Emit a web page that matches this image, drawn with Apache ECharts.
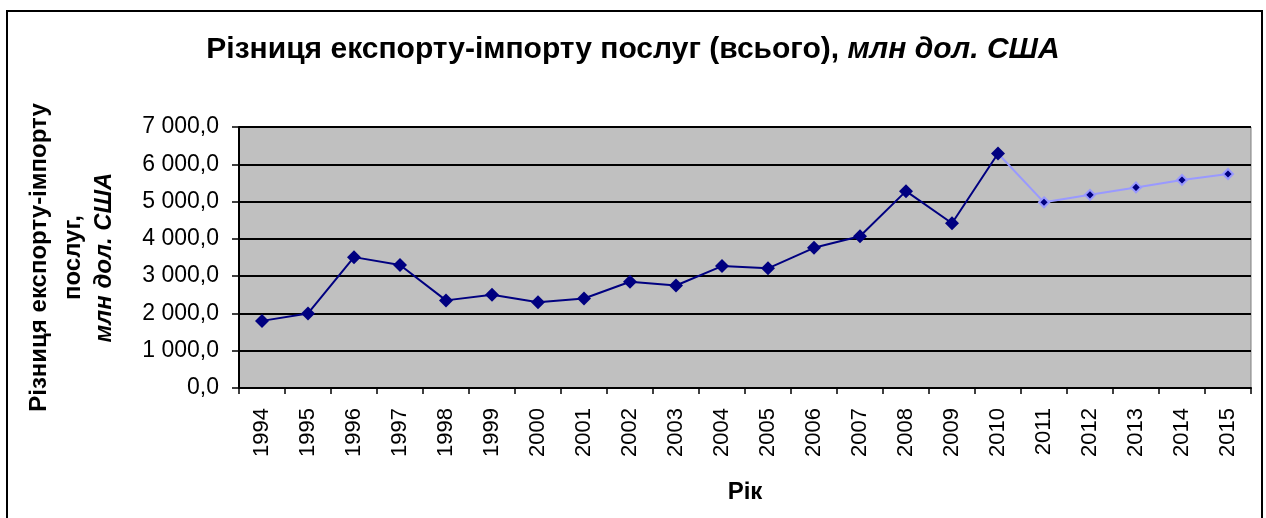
<!DOCTYPE html>
<html>
<head>
<meta charset="utf-8">
<script src="https://cdn.jsdelivr.net/npm/echarts@6/dist/echarts.min.js"></script>
<style>
  html, body { margin: 0; padding: 0; background: #fff; }
  #chart { width: 1266px; height: 518px; }
</style>
</head>
<body>
<div id="chart"></div>
<script>
// роки та значення (млн дол. США)
var years = ['1994', '1995', '1996', '1997', '1998', '1999', '2000', '2001', '2002', '2003', '2004',
  '2005', '2006', '2007', '2008', '2009', '2010', '2011', '2012', '2013', '2014', '2015'];
var actual = [1800, 2000, 3510, 3300, 2350, 2500, 2300, 2400, 2850, 2750, 3270,
  3210, 3760, 4070, 5280, 4420, 6290];
var forecast = [4980, 5180, 5380, 5580, 5740];

var chart = echarts.init(document.getElementById('chart'));

// прогноз починається від останньої фактичної точки
var forecastData = years.map(function () { return null; });
forecastData[actual.length - 1] = { value: actual[actual.length - 1], symbol: 'none' };
forecast.forEach(function (v, i) {
  forecastData[actual.length + i] = v;
});

function fmt(v) {
  var s = v.toFixed(1).replace('.', ',');
  return s.replace(/\B(?=(\d{3})+(?!\d))/g, ' ');
}

var option = {
  animation: false,
  textStyle: { fontFamily: 'Liberation Sans, Arial, sans-serif' },
  title: {
    text: '{a|Різниця експорту-імпорту послуг (всього), }{b|млн дол. США}',
    left: 'center',
    top: 30,
    textStyle: {
      rich: {
        a: { fontSize: 30, fontWeight: 'bold', color: '#000', fontFamily: 'Liberation Sans' },
        b: { fontSize: 30, fontWeight: 'bold', fontStyle: 'italic', color: '#000', fontFamily: 'Liberation Sans' }
      }
    }
  },
  graphic: [{
    type: 'rect',
    shape: { x: 7, y: 11, width: 1255, height: 530 },
    style: { fill: 'none', stroke: '#000', lineWidth: 2 },
    silent: true
  }],
  grid: {
    left: 239,
    right: 15,
    top: 127,
    bottom: 130,
    outerBoundsMode: 'none',
    containLabel: false,
    show: true,
    backgroundColor: '#C0C0C0',
    borderColor: '#808080',
    borderWidth: 1
  },
  xAxis: {
    type: 'category',
    data: years,
    boundaryGap: true,
    name: 'Рік',
    nameLocation: 'middle',
    nameGap: 92,
    nameTextStyle: { fontSize: 24, fontWeight: 'bold', color: '#000' },
    axisLine: { lineStyle: { color: '#000', width: 2 } },
    axisTick: { show: true, alignWithLabel: false, length: 6, lineStyle: { color: '#000', width: 1.5 } },
    axisLabel: { rotate: 90, fontSize: 22, color: '#000', margin: 20, interval: 0 },
    splitLine: { show: false }
  },
  yAxis: {
    type: 'value',
    min: 0,
    max: 7000,
    interval: 1000,
    name: '{a|Різниця експорту-імпорту}\n{a|послуг,}\n{b|млн дол. США}',
    nameLocation: 'middle',
    nameRotate: 90,
    nameGap: 121,
    nameTextStyle: {
      rich: {
        a: { fontSize: 24, fontWeight: 'bold', color: '#000', lineHeight: 34, fontFamily: 'Liberation Sans' },
        b: { fontSize: 24, fontWeight: 'bold', fontStyle: 'italic', color: '#000', lineHeight: 28, fontFamily: 'Liberation Sans' }
      }
    },
    axisLine: { show: true, lineStyle: { color: '#000', width: 2 } },
    axisTick: { show: true, length: 7, lineStyle: { color: '#000', width: 1.5 } },
    axisLabel: { fontSize: 23, color: '#000', margin: 20, formatter: fmt },
    splitLine: { lineStyle: { color: '#000', width: 2 } }
  },
  series: [
    {
      name: 'прогноз',
      type: 'line',
      data: forecastData,
      z: 2,
      symbol: 'diamond',
      symbolSize: 10,
      lineStyle: { color: '#9999FF', width: 2 },
      itemStyle: { color: '#000080', borderColor: '#9999FF', borderWidth: 2 }
    },
    {
      name: 'факт',
      type: 'line',
      data: actual,
      z: 3,
      symbol: 'diamond',
      symbolSize: 14,
      lineStyle: { color: '#000080', width: 2 },
      itemStyle: { color: '#000080', borderWidth: 0 }
    }
  ]
};

chart.setOption(option);
</script>
</body>
</html>
